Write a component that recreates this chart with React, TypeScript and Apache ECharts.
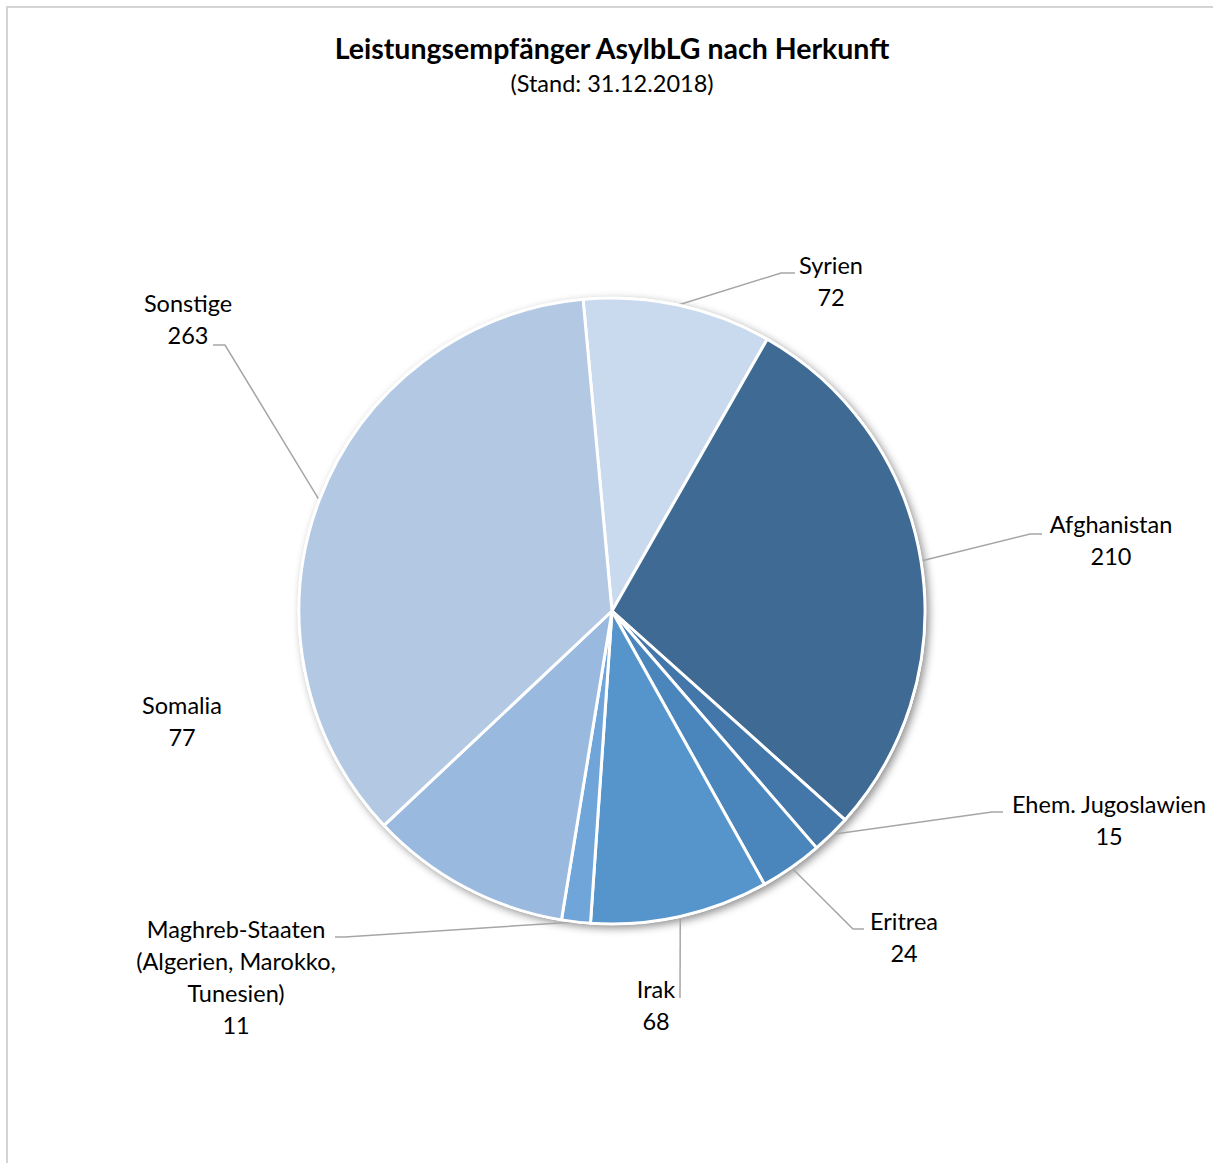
import React, { useEffect, useRef } from "react";
import * as echarts from "echarts";

const categories = [
  "Syrien",
  "Afghanistan",
  "Ehem. Jugoslawien",
  "Eritrea",
  "Irak",
  "Maghreb-Staaten\n(Algerien, Marokko,\nTunesien)",
  "Somalia",
  "Sonstige",
];
const values = [72, 210, 15, 24, 68, 11, 77, 263];
const colors = ["#C9D9EE", "#3E6A94", "#4477A9", "#4A86BB", "#5595CB", "#70A5D9", "#99B9DF", "#B2C8E3"];

const titleText = "Leistungsempfänger AsylbLG nach Herkunft";
const subtitleText = "(Stand: 31.12.2018)";

// label layout (style positions): center of label block, bend point, end point of leader
const labelPos: { x: number; y: number; bend?: number[]; end?: number[] }[] = [
  { x: 831, y: 281, bend: [781, 273], end: [795, 273] },
  { x: 1111, y: 540, bend: [1030, 534], end: [1042, 534] },
  { x: 1109, y: 820, bend: [992, 812], end: [1003, 812] },
  { x: 904, y: 937, bend: [853, 929], end: [864, 929] },
  { x: 656, y: 1005, bend: [680, 998], end: [680, 998] },
  { x: 236, y: 977, bend: [345, 937], end: [335, 937] },
  { x: 182, y: 721 },
  { x: 188, y: 319, bend: [225, 345], end: [213, 345] },
];

const CX = 612;
const CY = 611;
const R = 313;
const START = 95.3;

export default function App() {
  const ref = useRef<HTMLDivElement>(null);
  useEffect(() => {
    if (!ref.current) return;
    const chart = echarts.init(ref.current, null, { renderer: "svg" });
    const total = values.reduce((a, b) => a + b, 0);
    const mids: number[] = [];
    let acc = 0;
    values.forEach((v) => {
      const midDeg = START - ((acc + v / 2) / total) * 360;
      mids.push(midDeg);
      acc += v;
    });
    const font = "Lato, 'Open Sans', sans-serif";
    chart.setOption({
      animation: false,
      backgroundColor: "#ffffff",
      title: [
        {
          text: titleText,
          left: 607,
          top: 28,
          textAlign: "center",
          textStyle: { fontFamily: font, fontWeight: "bold", fontSize: 28.5, color: "#000" },
        },
        {
          text: subtitleText,
          left: 607,
          top: 66,
          textAlign: "center",
          textStyle: { fontFamily: font, fontWeight: "normal", fontSize: 23.5, color: "#000" },
        },
      ],
      graphic: [
        {
          type: "polyline",
          shape: { points: [[7, 1200], [7, 7], [1220, 7]] },
          style: { stroke: "#d4d4d4", lineWidth: 2, fill: "none" },
          silent: true,
        },
      ],
      series: [
        {
          type: "pie",
          silent: true,
          center: [CX, CY],
          radius: R + 1,
          z: 1,
          label: { show: false },
          labelLine: { show: false },
          itemStyle: {
            color: "#ffffff",
            shadowBlur: 9,
            shadowColor: "rgba(0,0,0,0.45)",
            shadowOffsetX: 3,
            shadowOffsetY: 3,
          },
          data: [{ value: 1, name: "" }],
        },
        {
          type: "pie",
          z: 2,
          center: [CX, CY],
          radius: R,
          startAngle: START,
          clockwise: true,
          avoidLabelOverlap: false,
          itemStyle: { borderColor: "#ffffff", borderWidth: 3 },
          label: {
            show: true,
            position: "outside",
            formatter: "{b}\n{c}",
            fontFamily: font,
            fontSize: 23.5,
            lineHeight: 32,
            color: "#000",
            align: "center",
          },
          labelLine: {
            show: true,
            length: 10,
            length2: 10,
            smooth: false,
            lineStyle: { color: "#a6a6a6", width: 1.5 },
          },
          labelLayout: (params: any) => {
            const i = params.dataIndex;
            const p = labelPos[i];
            const a = (mids[i] * Math.PI) / 180;
            const edge = [CX + R * Math.cos(a), CY - R * Math.sin(a)];
            const out: any = { x: p.x, y: p.y, align: "center", verticalAlign: "middle" };
            if (p.bend && p.end) out.labelLinePoints = [edge, p.bend, p.end];
            return out;
          },
          data: categories.map((c, i) => ({
            name: c,
            value: values[i],
            itemStyle: { color: colors[i] },
            labelLine: { show: !!labelPos[i].bend },
          })),
        },
      ],
    });
    return () => chart.dispose();
  }, []);
  return (
    <div
      ref={ref}
      style={{ position: "fixed", left: 0, top: 0, width: 1213, height: 1163 }}
    />
  );
}
